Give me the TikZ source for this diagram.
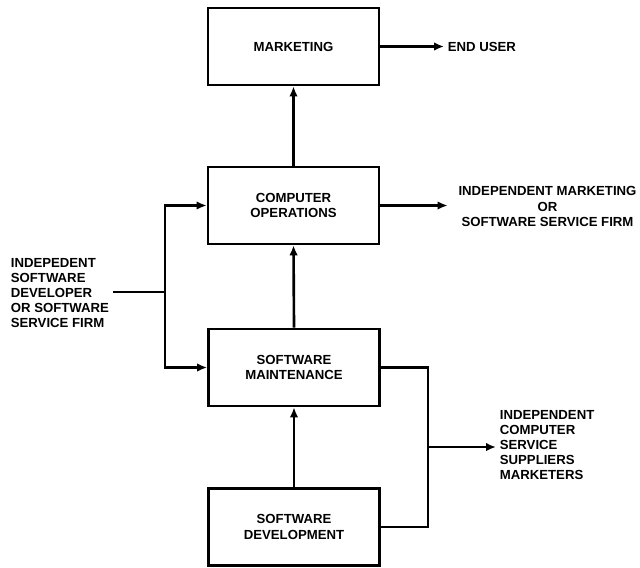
\documentclass[tikz,border=0pt]{standalone}
\usepackage{fontspec}
\setmainfont{Liberation Sans}
\usetikzlibrary{arrows.meta, positioning}
\tikzset{
  every node/.style={font=\fontsize{7.5}{8.6}\selectfont\bfseries},
  blk/.style   = {rectangle, draw=black, line width=1.5pt, fill=white,
                  minimum width=3.42cm, minimum height=1.54cm, align=center},
  lbl/.style   = {align=center, inner sep=2pt},
  lbll/.style  = {align=left, inner sep=2pt},
  arrow/.style = {-{Latex[length=2mm,width=1.7mm]}, line width=1.5pt},
  wire/.style  = {line width=1.5pt},
}

\begin{document}
\begin{tikzpicture}
  \useasboundingbox (0,0) rectangle (12.8,-11.34);

  % the four stages
  \node[blk] (mkt) at (5.87,-0.93)  {MARKETING};
  \node[blk] (ops) at (5.87,-4.11)  {COMPUTER\\OPERATIONS};
  \node[blk] (mnt) at (5.88,-7.35)  {SOFTWARE\\MAINTENANCE};
  \node[blk] (dev) at (5.88,-10.54) {SOFTWARE\\DEVELOPMENT};

  % outside parties
  \node[lbl, anchor=west]  (usr) at (8.88,-0.93) {END USER};
  \node[lbl]               (ind) at (10.95,-4.13) {INDEPENDENT MARKETING\\OR\\SOFTWARE SERVICE FIRM};
  \node[lbll, anchor=west] (src) at (0.14,-5.86) {INDEPEDENT\\SOFTWARE\\DEVELOPER\\OR SOFTWARE\\SERVICE FIRM};
  \node[lbll, anchor=west] (sup) at (9.92,-8.9)  {INDEPENDENT\\COMPUTER\\SERVICE\\SUPPLIERS\\MARKETERS};

  \coordinate (jl) at (3.3,-5.84);
  \coordinate (jr) at (8.56,-8.94);

  % main chain
  \draw[arrow] (dev.north) -- (mnt.south);
  \draw[arrow] (mnt.north) -- (ops.south);
  \draw[arrow] (ops.north) -- (mkt.south);

  % outputs to the right
  \draw[arrow] (mkt.east) -- (usr.west);
  \draw[arrow, shorten >=4pt] (ops.east) -- (ops.east -| ind.west);
  \draw[wire] (mnt.east) -| (jr) |- (dev.east);
  \draw[arrow] (jr) -- (jr -| sup.west);

  % input from the left
  \draw[wire] (src.east |- jl) -- (jl);
  \draw[arrow] (jl) |- (ops.west);
  \draw[arrow] (jl) |- (mnt.west);
\end{tikzpicture}
\end{document}
